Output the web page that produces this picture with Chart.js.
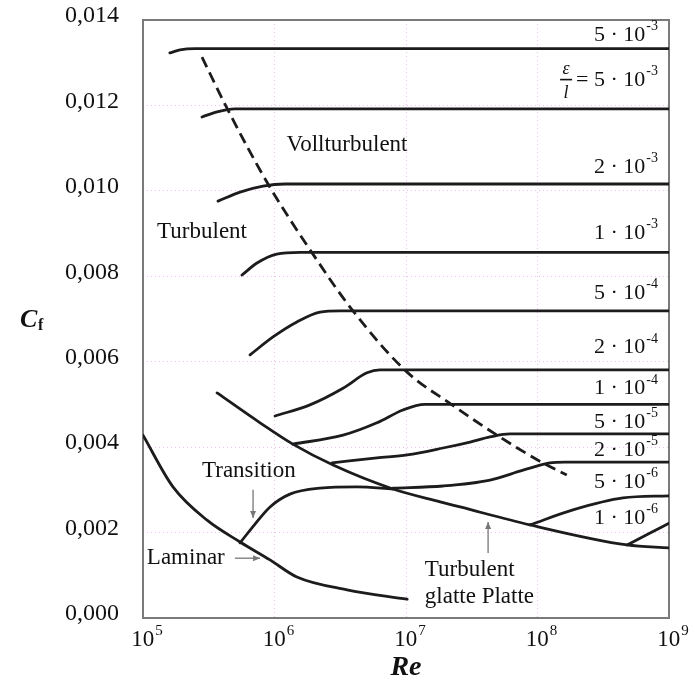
<!DOCTYPE html>
<html>
<head>
<meta charset="utf-8">
<script src="https://cdn.jsdelivr.net/npm/chart.js@4.4.1/dist/chart.umd.min.js"></script>
<style>
  html, body { margin: 0; padding: 0; background: #ffffff; }
  #wrap { width: 695px; height: 690px; }
</style>
</head>
<body>
<div id="wrap"><canvas id="c" width="695" height="690"></canvas></div>
<script>
// Skin-friction coefficient Cf of a flat plate versus Reynolds number Re,
// for several relative roughness values eps/l.

// Axis ticks
const reDecades = [1e5, 1e6, 1e7, 1e8, 1e9];
const cfTicks = [0, 0.002, 0.004, 0.006, 0.008, 0.010, 0.012, 0.014];

// Fully rough curves (Re, Cf)
const reRoughTop = [1.6e5, 1.91e5, 2.48e5, 1e9];
const cfRoughTop = [0.01323, 0.01330, 0.01333, 0.01333];

const reRough5e3 = [2.81e5, 3.66e5, 5.0e5, 1e9];
const cfRough5e3 = [0.01173, 0.01185, 0.01192, 0.01192];

const reRough2e3 = [3.72e5, 5.47e5, 8.18e5, 1.2e6, 1e9];
const cfRough2e3 = [0.00976, 0.00997, 0.01011, 0.01016, 0.01016];

const reRough1e3 = [5.66e5, 7.36e5, 1.04e6, 1.56e6, 1e9];
const cfRough1e3 = [0.00803, 0.00831, 0.00852, 0.00856, 0.00856];

const reRough5e4 = [6.52e5, 9.75e5, 1.48e6, 2.22e6, 3.15e6, 1e9];
const cfRough5e4 = [0.00616, 0.00658, 0.00693, 0.00716, 0.00719, 0.00719];

const reRough2e4 = [1.01e6, 1.86e6, 3.32e6, 5.05e6, 6.34e6, 1e9];
const cfRough2e4 = [0.00473, 0.00499, 0.00538, 0.00574, 0.00581, 0.00581];

const reRough1e4 = [1.38e6, 3.32e6, 6.01e6, 9.48e6, 1.39e7, 1e9];
const cfRough1e4 = [0.00407, 0.00428, 0.00457, 0.00487, 0.00500, 0.00500];

const reRough5e5 = [2.74e6, 6.01e6, 1.02e7, 1.91e7, 3.07e7, 4.36e7, 6.18e7, 1e9];
const cfRough5e5 = [0.00363, 0.00375, 0.00382, 0.00398, 0.00412, 0.00424, 0.00431, 0.00431];

const reRough2e5 = [7.96e6, 1.91e7, 4.36e7, 7.77e7, 1.24e8, 1.62e8, 1e9];
const cfRough2e5 = [0.00304, 0.00309, 0.00323, 0.00346, 0.00363, 0.00365, 0.00365];

const reRough5e6 = [8.77e7, 1.86e8, 4.47e8, 1e9];
const cfRough5e6 = [0.00218, 0.00253, 0.00281, 0.00286];

const reRough1e6 = [4.8e8, 7.18e8, 1e9];
const cfRough1e6 = [0.00171, 0.00199, 0.00222];

// Smooth plate, turbulent
const reSmooth = [3.66e5, 7.77e5, 1.38e6, 2.79e6, 7.96e6, 1.82e7, 2.58e7, 8.77e7, 4.8e8, 1e9];
const cfSmooth = [0.00527, 0.00457, 0.00407, 0.00358, 0.00302, 0.00272, 0.00260, 0.00218, 0.00171, 0.00164];

// Laminar
const reLaminar = [1e5, 1.69e5, 3.07e5, 5.47e5, 9.25e5, 1.48e6, 3.56e6, 1.02e7];
const cfLaminar = [0.00428, 0.00307, 0.00229, 0.00178, 0.00136, 0.00096, 0.00066, 0.00044];

// Transition from laminar to turbulent
const reTransition = [5.47e5, 7.11e5, 9.25e5, 1.31e6, 2.22e6, 4.24e6, 7.96e6];
const cfTransition = [0.00176, 0.00220, 0.00260, 0.00290, 0.00304, 0.00307, 0.00302];

// Boundary of the fully rough regime (dashed)
const reBoundary = [2.81e5, 4.43e5, 8.93e5, 1.93e6, 3.95e6, 1.0e7, 2.24e7, 4.92e7, 1.10e8, 1.67e8];
const cfBoundary = [0.01313, 0.01189, 0.01016, 0.00855, 0.00719, 0.00578, 0.00499, 0.00428, 0.00363, 0.00335];

// Roughness labels at the right edge: mantissa, exponent, Cf at the text centre
const roughMant = ['5', '5', '2', '1', '5', '2', '1', '5', '2', '5', '1'];
const roughExp  = ['-3', '-3', '-3', '-3', '-4', '-4', '-4', '-5', '-5', '-6', '-6'];
const roughAt   = [0.01365, 0.01260, 0.01056, 0.00901, 0.00761, 0.00634, 0.00538, 0.00459, 0.00393, 0.00318, 0.00234];

const INK = '#1c1c1c';
const SERIF = '"Liberation Serif", "Times New Roman", serif';

function pts(xs, ys) { return xs.map((x, i) => ({ x: x, y: ys[i] })); }
function curve(xs, ys, extra) {
  return Object.assign({
    data: pts(xs, ys),
    showLine: true,
    borderColor: INK,
    borderWidth: 2.8,
    pointRadius: 0,
    fill: false,
    cubicInterpolationMode: 'monotone',
    borderCapStyle: 'round',
    borderJoinStyle: 'round'
  }, extra || {});
}

const datasets = [
  curve(reRoughTop, cfRoughTop),
  curve(reRough5e3, cfRough5e3),
  curve(reRough2e3, cfRough2e3),
  curve(reRough1e3, cfRough1e3),
  curve(reRough5e4, cfRough5e4),
  curve(reRough2e4, cfRough2e4),
  curve(reRough1e4, cfRough1e4),
  curve(reRough5e5, cfRough5e5),
  curve(reRough2e5, cfRough2e5),
  curve(reRough5e6, cfRough5e6),
  curve(reRough1e6, cfRough1e6),
  curve(reSmooth, cfSmooth),
  curve(reLaminar, cfLaminar),
  curve(reTransition, cfTransition),
  curve(reBoundary, cfBoundary, { borderDash: [11, 6], borderCapStyle: 'butt' })
];

// Text with a raised exponent; returns total width
function supText(ctx, x, y, base, sup, baseSize, supSize, align, style) {
  const st = style || '';
  ctx.font = st + baseSize + 'px ' + SERIF;
  const wb = ctx.measureText(base).width;
  ctx.font = st + supSize + 'px ' + SERIF;
  const ws = ctx.measureText(sup).width;
  const w = wb + ws + 1;
  let x0 = x;
  if (align === 'right') x0 = x - w;
  else if (align === 'center') x0 = x - w / 2;
  ctx.textAlign = 'left';
  ctx.textBaseline = 'middle';
  ctx.font = st + baseSize + 'px ' + SERIF;
  ctx.fillText(base, x0, y);
  ctx.font = st + supSize + 'px ' + SERIF;
  ctx.fillText(sup, x0 + wb + 1, y - baseSize * 0.38);
  return w;
}

function arrow(ctx, x1, y1, x2, y2) {
  ctx.save();
  ctx.strokeStyle = '#777';
  ctx.fillStyle = '#777';
  ctx.lineWidth = 1.3;
  ctx.beginPath();
  ctx.moveTo(x1, y1);
  ctx.lineTo(x2, y2);
  ctx.stroke();
  const a = Math.atan2(y2 - y1, x2 - x1);
  const L = 7, W = 3;
  ctx.beginPath();
  ctx.moveTo(x2, y2);
  ctx.lineTo(x2 - L * Math.cos(a) + W * Math.sin(a), y2 - L * Math.sin(a) - W * Math.cos(a));
  ctx.lineTo(x2 - L * Math.cos(a) - W * Math.sin(a), y2 - L * Math.sin(a) + W * Math.cos(a));
  ctx.closePath();
  ctx.fill();
  ctx.restore();
}

const framePlugin = {
  id: 'frame',
  beforeDatasetsDraw(chart) {
    const a = chart.chartArea, ctx = chart.ctx;
    ctx.save();
    ctx.strokeStyle = '#7a7a7a';
    ctx.lineWidth = 2;
    ctx.strokeRect(a.left, a.top, a.right - a.left, a.bottom - a.top);
    ctx.restore();
  }
};

const textPlugin = {
  id: 'texts',
  afterDraw(chart) {
    const ctx = chart.ctx;
    const xs = chart.scales.x, ys = chart.scales.y;
    const X = v => xs.getPixelForValue(v);
    const Y = v => ys.getPixelForValue(v);
    ctx.save();
    ctx.fillStyle = '#111';

    // x tick labels 10^n
    reDecades.forEach(v => {
      const n = Math.round(Math.log10(v));
      supText(ctx, X(v) + 4, 640, '10', String(n), 23, 15, 'center');
    });

    // axis titles
    ctx.textBaseline = 'middle';
    ctx.textAlign = 'center';
    ctx.font = 'bold italic 28px ' + SERIF;
    ctx.fillText('Re', X(1e7), 668);
    ctx.textAlign = 'left';
    ctx.font = 'bold italic 26px ' + SERIF;
    ctx.fillText('C', 20, 320);
    ctx.font = 'bold 16px ' + SERIF;
    ctx.fillText('f', 38, 326);

    // roughness labels at the right edge
    const rightX = X(1e9) - 11;
    roughMant.forEach((m, i) => {
      if (i === 1) return;
      supText(ctx, rightX, Y(roughAt[i]), m + ' \u00b7 10', roughExp[i], 22, 14, 'right');
    });
    // second label carries the eps/l fraction in front
    const yf = Y(roughAt[1]);
    const w = supText(ctx, rightX, yf, '= ' + roughMant[1] + ' \u00b7 10', roughExp[1], 22, 14, 'right');
    const fx = rightX - w - 10;
    ctx.textAlign = 'center';
    ctx.font = 'italic 18px ' + SERIF;
    ctx.fillText('\u03b5', fx, yf - 11);
    ctx.fillText('l', fx, yf + 13);
    ctx.fillRect(fx - 6, yf - 1, 12, 1.6);

    // regime labels
    ctx.textAlign = 'center';
    ctx.font = '23px ' + SERIF;
    ctx.fillText('Vollturbulent', X(3.56e6), Y(0.01107));
    ctx.textAlign = 'left';
    ctx.fillText('Turbulent', X(1.28e5), Y(0.00904));
    ctx.fillText('Transition', X(2.81e5), Y(0.00344));
    ctx.fillText('Laminar', X(1.07e5), Y(0.00140));
    ctx.fillText('Turbulent', X(1.39e7), Y(0.00112));
    ctx.fillText('glatte Platte', X(1.39e7), Y(0.00049));

    // pointer arrows
    arrow(ctx, X(6.87e5), Y(0.00300), X(6.87e5), Y(0.00234));
    arrow(ctx, X(5.0e5), Y(0.00140), X(7.77e5), Y(0.00140));
    arrow(ctx, X(4.21e7), Y(0.00152), X(4.21e7), Y(0.00225));
    ctx.restore();
  }
};

const gridPink = 'rgba(225, 140, 225, 0.55)';

new Chart(document.getElementById('c'), {
  type: 'scatter',
  data: { datasets: datasets },
  options: {
    responsive: false,
    animation: false,
    devicePixelRatio: 1,
    layout: { padding: { top: 20, right: 26, left: 0, bottom: 0 } },
    plugins: { legend: { display: false }, tooltip: { enabled: false } },
    scales: {
      x: {
        type: 'logarithmic',
        min: 1e5,
        max: 1e9,
        afterBuildTicks: s => { s.ticks = reDecades.map(v => ({ value: v })); },
        afterFit: s => { s.height = 72; s.paddingLeft = 0; s.paddingRight = 0; },
        ticks: { display: false },
        grid: { color: gridPink, lineWidth: 1, drawTicks: false },
        border: { display: false, dash: [1, 3] }
      },
      y: {
        min: 0,
        max: 0.014,
        afterBuildTicks: s => { s.ticks = cfTicks.map(v => ({ value: v })); },
        afterFit: s => { s.width = 143; s.paddingTop = 0; s.paddingBottom = 0; },
        ticks: {
          callback: v => v.toFixed(3).replace('.', ','),
          font: { family: SERIF, size: 24 },
          color: '#111',
          padding: 24,
          labelOffset: -4
        },
        grid: { color: gridPink, lineWidth: 1, drawTicks: false },
        border: { display: false, dash: [1, 3] }
      }
    }
  },
  plugins: [framePlugin, textPlugin]
});
</script>
</body>
</html>
